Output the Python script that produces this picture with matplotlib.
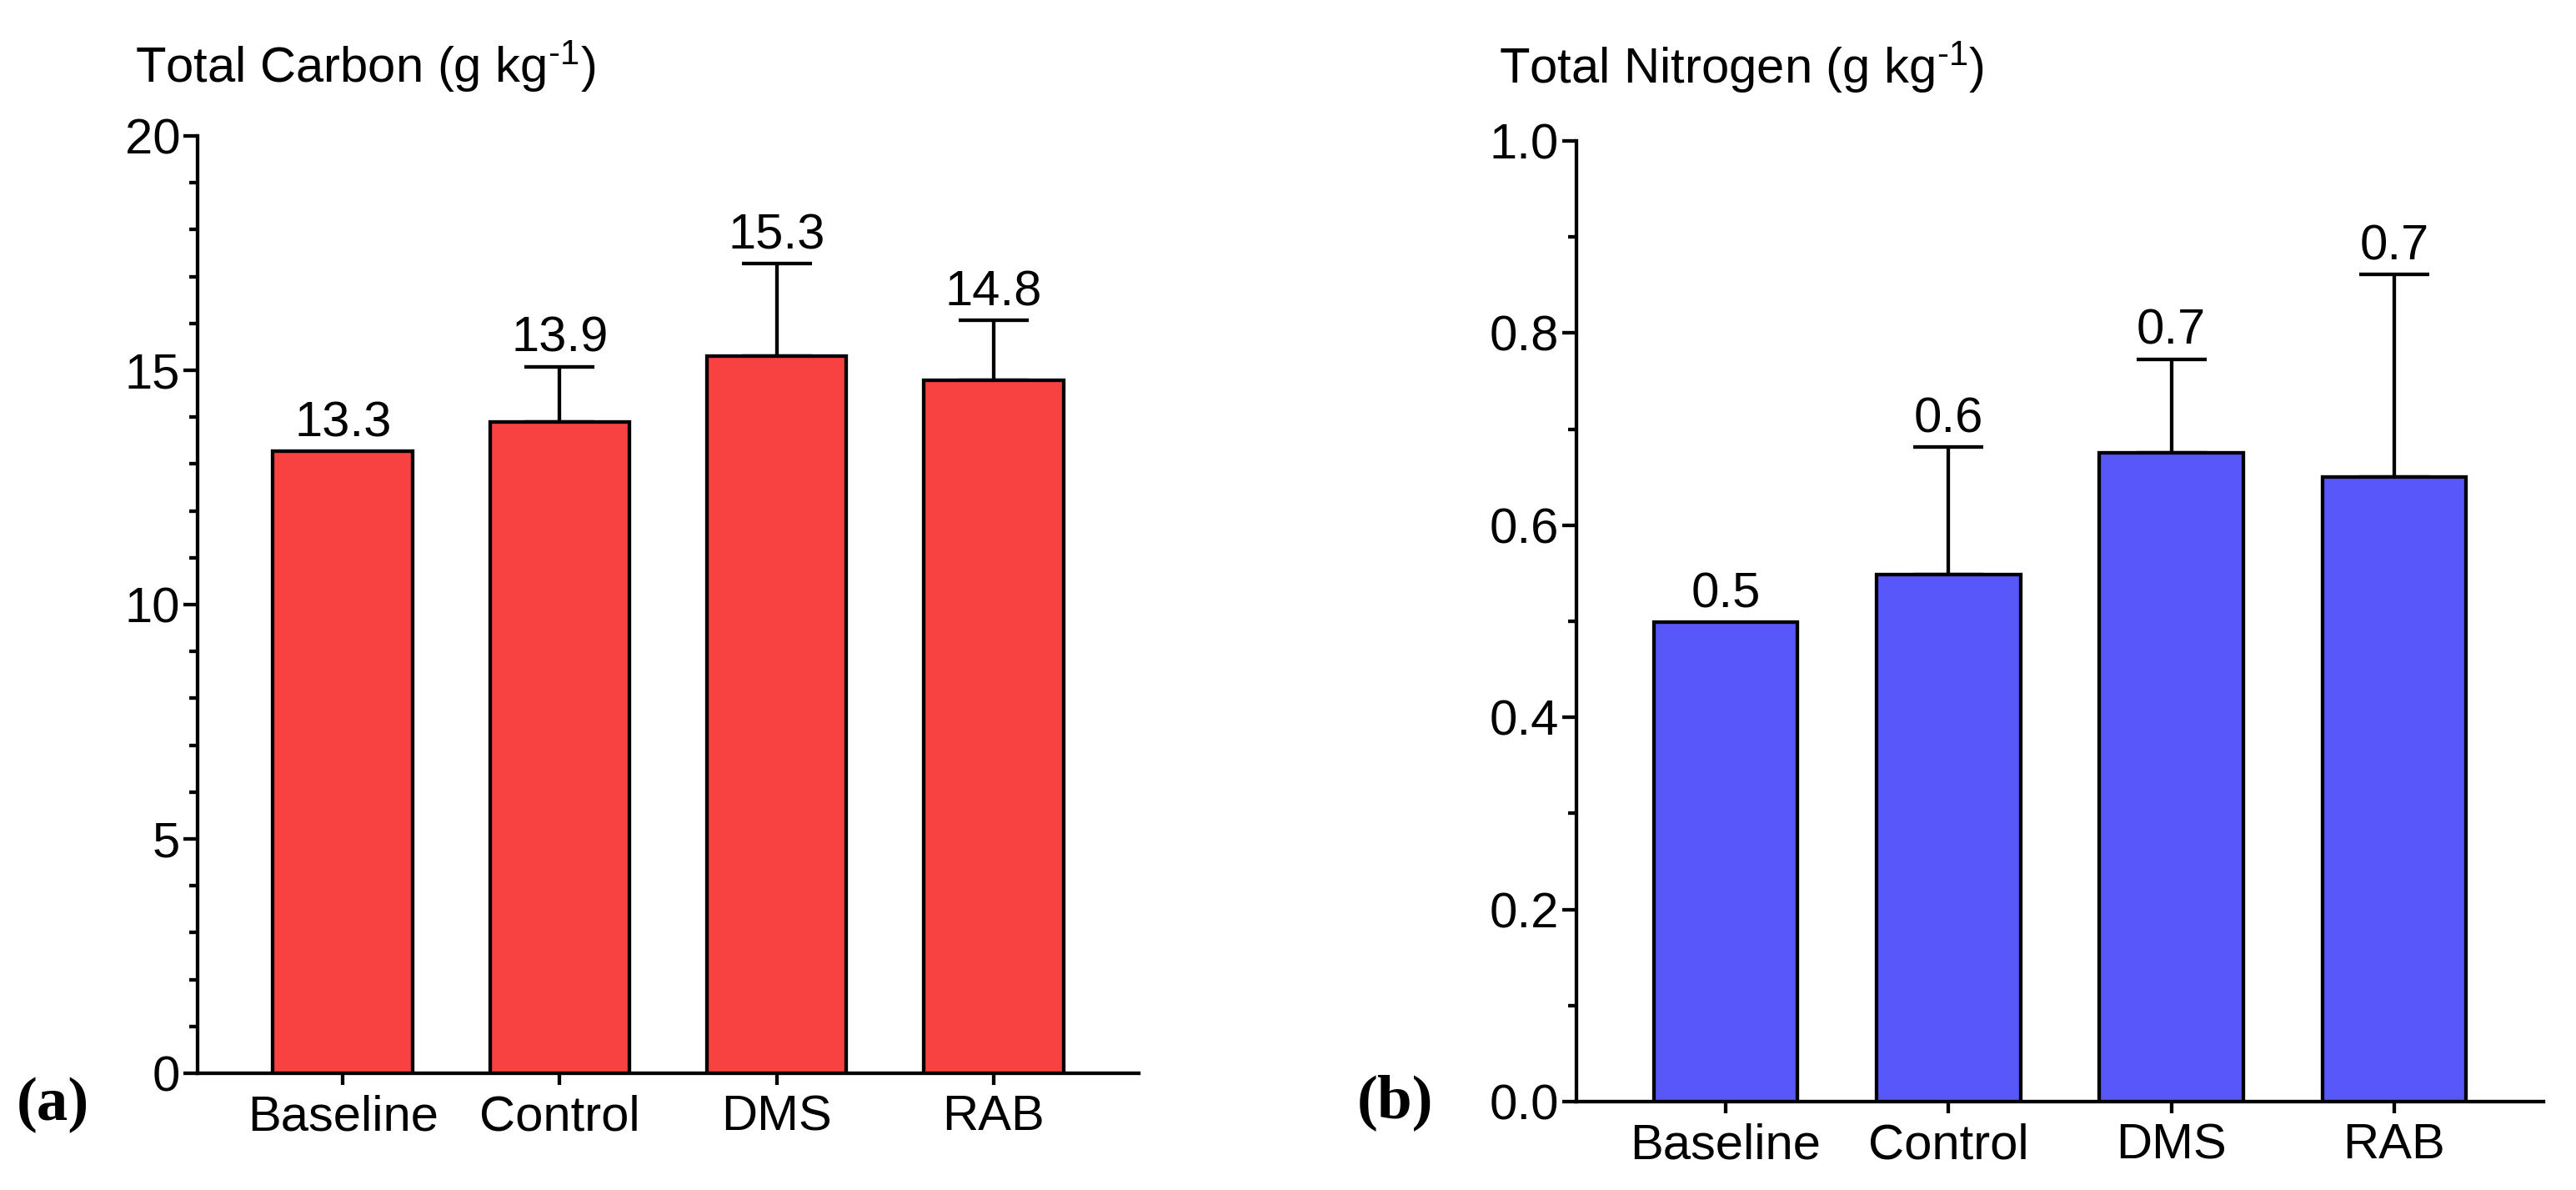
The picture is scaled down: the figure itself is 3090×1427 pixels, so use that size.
import numpy as np
import matplotlib
matplotlib.use("Agg")
import matplotlib.pyplot as plt
from matplotlib.ticker import MultipleLocator

# Data
groups = ["Baseline", "Control", "DMS", "RAB"]

carbon_mean = [13.27, 13.90, 15.31, 14.79]
carbon_err = [0.0, 1.18, 1.97, 1.28]
carbon_lbl = ["13.3", "13.9", "15.3", "14.8"]

nitrogen_mean = [0.499, 0.549, 0.675, 0.650]
nitrogen_err = [0.0, 0.132, 0.098, 0.211]
nitrogen_lbl = ["0.5", "0.6", "0.7", "0.7"]

plt.rcParams['font.family'] = ['Liberation Sans', 'DejaVu Sans']
plt.rcParams['mathtext.fontset'] = 'custom'
plt.rcParams['mathtext.rm'] = 'Liberation Sans'
plt.rcParams['mathtext.default'] = 'regular'

W, H = 3090, 1427
fig = plt.figure(figsize=(W / 100, H / 100), dpi=100)

FS = 43
LW = 3.1


def panel(rect, means, errs, labels, color, ymax, major, minor, fmt):
    ax = fig.add_axes(rect)
    x = np.arange(len(groups))
    ax.bar(x, means, width=0.645, color=color, edgecolor='black',
           linewidth=LW, zorder=3)
    has = np.array(errs) > 0
    ax.errorbar(x[has], np.array(means)[has],
                yerr=[np.zeros(has.sum()), np.array(errs)[has]],
                fmt='none', ecolor='black', elinewidth=LW, capsize=30.5,
                capthick=LW, zorder=2)
    for xi, m, e, t in zip(x, means, errs, labels):
        ax.annotate(t, (xi, m + e), xytext=(0, 4), textcoords='offset points',
                    ha='center', va='bottom', fontsize=FS)
    ax.set_xlim(-0.67, 3.67)
    ax.set_ylim(0, ymax)
    ax.set_xticks(x)
    ax.set_xticklabels(groups, fontsize=FS)
    ax.yaxis.set_major_locator(MultipleLocator(major))
    ax.yaxis.set_minor_locator(MultipleLocator(minor))
    ax.yaxis.set_major_formatter(fmt)
    for s in ['top', 'right']:
        ax.spines[s].set_visible(False)
    for s in ['left', 'bottom']:
        ax.spines[s].set_linewidth(LW)
    ax.tick_params(axis='y', which='major', length=12, width=LW,
                   labelsize=FS, pad=3)
    ax.tick_params(axis='y', which='minor', length=7, width=LW)
    ax.tick_params(axis='x', which='major', length=10, width=LW,
                   labelsize=FS, pad=8)
    ax.tick_params(axis='x', which='minor', bottom=False)
    return ax


# (a) Total carbon
ax1 = panel([237 / W, 1 - 1287 / H, (1366 - 237) / W, (1287 - 163) / H],
            carbon_mean, carbon_err, carbon_lbl, '#F84242', 20, 5, 1,
            '{x:.0f}')
# (b) Total nitrogen
ax2 = panel([1891 / W, 1 - 1321 / H, (3051 - 1891) / W, (1321 - 169) / H],
            nitrogen_mean, nitrogen_err, nitrogen_lbl, '#5858FA', 1.0, 0.2,
            0.1, '{x:.1f}')

fig.text(162 / W, 1 - 99 / H, r'Total Carbon (g kg$^{\text{-1}}$)', fontsize=FS,
         ha='left', va='baseline')
fig.text(1798 / W, 1 - 100 / H, r'Total Nitrogen (g kg$^{\text{-1}}$)',
         fontsize=FS, ha='left', va='baseline')

fig.text(20 / W, 1 - 1325 / H, '(a)', fontsize=54, fontweight='bold',
         family=['Liberation Serif', 'DejaVu Serif'], ha='left', va='center')
fig.text(1628 / W, 1 - 1322 / H, '(b)', fontsize=54, fontweight='bold',
         family=['Liberation Serif', 'DejaVu Serif'], ha='left', va='center')

fig.savefig('out.png', dpi=100, facecolor='white')
